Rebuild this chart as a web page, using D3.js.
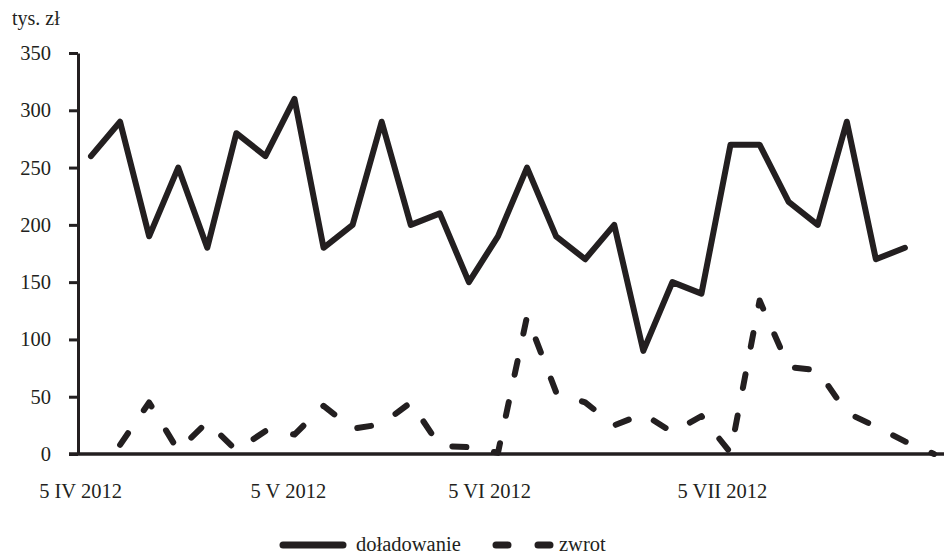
<!DOCTYPE html>
<html><head><meta charset="utf-8">
<script src="https://cdn.jsdelivr.net/npm/d3@7"></script>
<style>body{margin:0;background:#fff}svg{display:block}text{font-family:"Liberation Serif","Times New Roman",serif;fill:#231f20}</style>
</head><body><svg id="c" width="944" height="555"></svg>
<script>
const unitLabel = "tys. zł";
const seriesNames = ["doładowanie", "zwrot"];
const doladowanie = [260,290,190,250,180,280,260,310,180,200,290,200,210,150,190,250,190,170,200,90,150,140,270,270,220,200,290,170,180];
const zwrot = [null,8,45,3,28,3,20,17,42,22,26,45,7,6,1,120,54,45,25,35,19,33,1,134,76,73,36,24,11,0];
const yTicks = [0,50,100,150,200,250,300,350];
const xTickLabels = ["5 IV 2012","5 V 2012","5 VI 2012","5 VII 2012"];
const xTickAt = [-0.36, 6.79, 13.71, 21.72];

const ink = "#231f20";
const svg = d3.select("#c");
const x = d3.scaleLinear().domain([0, 29]).range([91, 934]);
const y = d3.scaleLinear().domain([0, 350]).range([454, 53]);
const axisX = 78;

// y axis
const yAxis = svg.append("g").attr("transform", `translate(${axisX},0)`)
  .call(d3.axisLeft(y).tickValues(yTicks).tickSize(9).tickPadding(18).tickSizeOuter(0));
yAxis.select(".domain").attr("stroke", ink).attr("stroke-width", 3);
yAxis.selectAll(".tick line").attr("stroke", ink).attr("stroke-width", 3);
yAxis.selectAll(".tick text").attr("font-size", "20.5px").attr("font-family", "Liberation Serif").attr("fill", ink);

// x axis line
svg.append("line").attr("x1", 69).attr("x2", 944).attr("y1", y(0)).attr("y2", y(0))
  .attr("stroke", ink).attr("stroke-width", 3.5);

// x labels
svg.selectAll("text.xl").data(xTickLabels).join("text").attr("class", "xl")
  .attr("x", (d, i) => x(xTickAt[i])).attr("y", 498).attr("text-anchor", "middle")
  .attr("font-size", "20.5px").text(d => d);

// unit label
svg.append("text").attr("x", 12).attr("y", 25).attr("font-size", "20px").text(unitLabel);

const line = d3.line().defined(d => d != null).x((d, i) => x(i)).y(d => y(d));

svg.append("path").datum(doladowanie).attr("d", line)
  .attr("fill", "none").attr("stroke", ink).attr("stroke-width", 6)
  .attr("stroke-linejoin", "round").attr("stroke-linecap", "round");

svg.append("path").datum(zwrot).attr("d", line)
  .attr("fill", "none").attr("stroke", ink).attr("stroke-width", 6)
  .attr("stroke-dasharray", "14,28")
  .attr("stroke-linejoin", "round").attr("stroke-linecap", "round");

// legend
const leg = svg.append("g");
leg.append("line").attr("x1", 283).attr("x2", 343).attr("y1", 545).attr("y2", 545)
  .attr("stroke", ink).attr("stroke-width", 7).attr("stroke-linecap", "round");
leg.append("text").attr("x", 356).attr("y", 551).attr("font-size", "20.5px").text(seriesNames[0]);
leg.append("line").attr("x1", 496).attr("x2", 556).attr("y1", 545).attr("y2", 545)
  .attr("stroke", ink).attr("stroke-width", 7).attr("stroke-linecap", "round")
  .attr("stroke-dasharray", "12,30");
leg.append("text").attr("x", 559).attr("y", 551).attr("font-size", "20.5px").text(seriesNames[1]);
</script></body></html>
